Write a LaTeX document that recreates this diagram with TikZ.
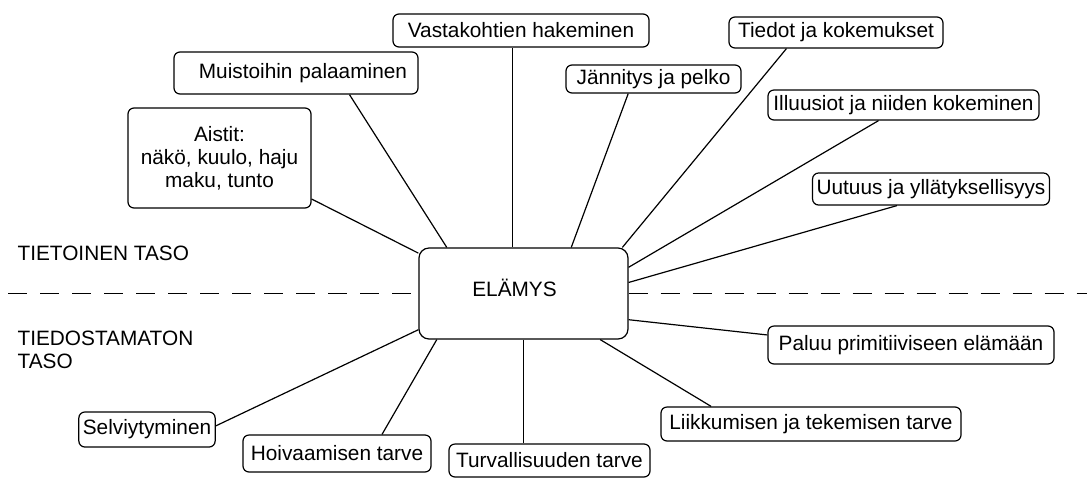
\documentclass[tikz,border=0pt]{standalone}
\usepackage{fontspec}
\setmainfont{Liberation Sans}
\begin{document}
\begin{tikzpicture}[x=0.5pt, y=-0.5pt, line width=0.6pt,
    font=\fontsize{10.4}{11.5}\selectfont,
    box/.style={draw, rounded corners=3pt, fill=white, inner xsep=2pt, inner ysep=1pt, align=center},
    taso/.style={dash pattern=on 9.5pt off 6.5pt}]
    \useasboundingbox (0,0) rectangle (1087,478);
    % keskimmäinen laatikko
    \node[box, rounded corners=5pt, minimum width=104.5pt, minimum height=45.5pt, text depth=6pt]
      (elamys) at (523.5,293.5) {ELÄMYS\hspace{9pt}};
    % tietoinen ja tiedostamaton taso
    \coordinate (vasen) at (8,293.5);
    \coordinate (oikea) at (1087,293.5);
    \draw[taso] (vasen) -- (elamys.west);
    \draw[taso] (elamys.east) -- (oikea);
    \node[anchor=west, inner sep=0pt] (tietoinen) at (17,253) {TIETOINEN TASO};
    \node[anchor=north west, inner sep=0pt, align=left] (tiedostamaton) at (17,330) {TIEDOSTAMATON\\TASO};
    % tietoisen tason laatikot
    \node[box, minimum width=91.5pt, minimum height=50pt] (aistit) at (219.5,158) {Aistit:\\näkö, kuulo, haju\\maku, tunto};
    \node[box, inner xsep=5.5pt, text width=111pt, align=right, minimum height=21pt] (muistot) at (296,73) {Muistoihin palaaminen};
    \node[box, minimum width=128pt, minimum height=16.5pt] (vastakohdat) at (521,30.5) {Vastakohtien hakeminen};
    \node[box, minimum width=87.5pt, minimum height=14pt] (jannitys) at (653.5,79) {Jännitys ja pelko};
    \node[box, minimum width=107pt, minimum height=15.5pt] (tiedot) at (836,32.5) {Tiedot ja kokemukset};
    \node[box, minimum width=135.5pt, minimum height=15pt] (illuusiot) at (903.5,105) {Illuusiot ja niiden kokeminen};
    \node[box, minimum width=116pt, minimum height=16pt] (uutuus) at (931,189) {Uutuus ja yllätyksellisyys};
    % tiedostamattoman tason laatikot
    \node[box, minimum width=143pt, minimum height=19pt] (paluu) at (911,345) {Paluu primitiiviseen elämään};
    \node[box, minimum width=150pt, minimum height=17pt] (liikkuminen) at (811,424) {Liikkumisen ja tekemisen tarve};
    \node[box, minimum width=100.5pt, minimum height=16.5pt] (turvallisuus) at (549.5,460.5) {Turvallisuuden tarve};
    \node[box, minimum width=94pt, minimum height=18.5pt] (hoivaaminen) at (337,453.5) {Hoivaamisen tarve};
    \node[box, minimum width=68pt, minimum height=17.5pt] (selviytyminen) at (147,429.5) {Selviytyminen};
    % viivat keskelle
    \draw (aistit.-24.7) -- (elamys.159.3);
    \draw (muistot.-22) -- (elamys.149.3);
    \draw (elamys.103) -- (elamys.103 |- vastakohdat.south);
    \draw (jannitys.-150.3) -- (elamys.44.4);
    \draw (tiedot.-162.1) -- (elamys.25.5);
    \draw (illuusiot.-148.5) -- (elamys.14.2);
    \draw (uutuus.-154.8) -- (elamys.6.8);
    \draw (paluu.176.8) -- (elamys.-14.8);
    \draw (liikkuminen.170.7) -- (elamys.-31.8);
    \draw (elamys.south) -- (elamys.south |- turvallisuus.north);
    \draw (hoivaaminen.23.3) -- (elamys.-152.8);
    \draw (selviytyminen.3.8) -- (elamys.-161.2);
\end{tikzpicture}
\end{document}
